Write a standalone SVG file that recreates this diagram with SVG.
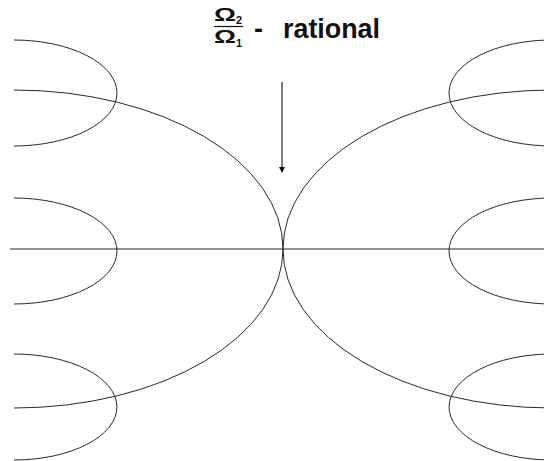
<svg xmlns="http://www.w3.org/2000/svg" width="544" height="461" viewBox="0 0 544 461">
<defs>
<style>
.c{fill:none;stroke:#2a2a2a;stroke-width:1}
.t{font-family:"Liberation Sans",Arial,sans-serif;font-weight:bold;fill:#111}
</style>
<marker id="ah" markerWidth="6" markerHeight="8" refX="5" refY="3" orient="auto" markerUnits="userSpaceOnUse">
<path d="M0,0 L6,3 L0,6 Z" fill="#111"/>
</marker>
</defs>
<g id="curves">
<path id="axis" class="c" d="M10,249 L544,249"/>
<path id="big-left" class="c" d="M14,90 A269,159 0 0 1 14,408"/>
<path id="big-right" class="c" d="M552,90 A269,159 0 0 0 552,408"/>
<path id="left-top" class="c" d="M14,40 A103,53 0 0 1 14,146"/>
<path id="left-mid" class="c" d="M14,198 A103,53 0 0 1 14,304"/>
<path id="left-bot" class="c" d="M14,354 A103,53 0 0 1 14,460"/>
<path id="right-top" class="c" d="M552,40 A103,53 0 0 0 552,146"/>
<path id="right-mid" class="c" d="M552,198 A103,53 0 0 0 552,304"/>
<path id="right-bot" class="c" d="M552,354 A103,53 0 0 0 552,460"/>
</g>
<g id="connectors">
<line x1="282" y1="82" x2="282" y2="172" stroke="#111" stroke-width="1.1" marker-end="url(#ah)"/>
</g>
<g id="label">
<text class="t" x="214" y="21" font-size="18" textLength="22" lengthAdjust="spacingAndGlyphs">Ω</text>
<text class="t" x="236" y="24" font-size="11">2</text>
<line x1="214" y1="26.5" x2="243" y2="26.5" stroke="#111" stroke-width="1.2"/>
<text class="t" x="214" y="43" font-size="18" textLength="22" lengthAdjust="spacingAndGlyphs">Ω</text>
<text class="t" x="236" y="47" font-size="11">1</text>
<text class="t" x="254" y="38" font-size="27">-</text>
<text class="t" x="283" y="38" font-size="27" textLength="97" lengthAdjust="spacingAndGlyphs">rational</text>
</g>
</svg>
